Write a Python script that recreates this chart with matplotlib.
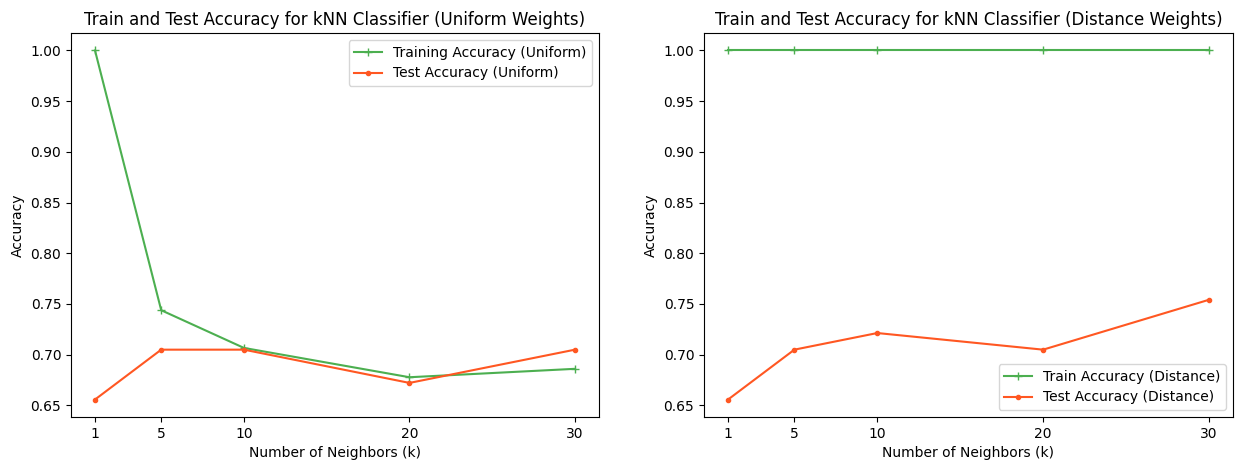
import matplotlib
matplotlib.use('Agg')
import matplotlib.pyplot as plt

k_values = [1, 5, 10, 20, 30]

train_uniform = [1.0, 0.7438, 0.7066, 0.6777, 0.6860]
test_uniform = [0.6557, 0.7049, 0.7049, 0.6721, 0.7049]

train_distance = [1.0, 1.0, 1.0, 1.0, 1.0]
test_distance = [0.6557, 0.7049, 0.7213, 0.7049, 0.7541]

green = '#4CAF50'
orange = '#FF5722'

fig = plt.figure(figsize=(12.42, 4.7), dpi=100)
W, H = 1242, 470
ax1 = fig.add_axes([71 / W, (H - 417) / H, 528 / W, 384 / H])
ax2 = fig.add_axes([704 / W, (H - 417) / H, 529 / W, 384 / H])

# Uniform weights
ax1.plot(k_values, train_uniform, marker='+', color=green, label='Training Accuracy (Uniform)')
ax1.plot(k_values, test_uniform, marker='.', color=orange, label='Test Accuracy (Uniform)')
ax1.set_title('Train and Test Accuracy for kNN Classifier (Uniform Weights)')
ax1.set_xlabel('Number of Neighbors (k)')
ax1.set_ylabel('Accuracy')
ax1.set_xticks(k_values)
ax1.legend(loc='upper right')

# Distance weights
ax2.plot(k_values, train_distance, marker='+', color=green, label='Train Accuracy (Distance)')
ax2.plot(k_values, test_distance, marker='.', color=orange, label='Test Accuracy (Distance)')
ax2.set_title('Train and Test Accuracy for kNN Classifier (Distance Weights)')
ax2.set_xlabel('Number of Neighbors (k)')
ax2.set_ylabel('Accuracy')
ax2.set_xticks(k_values)
ax2.set_ylim(ax1.get_ylim())
ax2.legend(loc='lower right')

fig.savefig('out.png', dpi=100)
